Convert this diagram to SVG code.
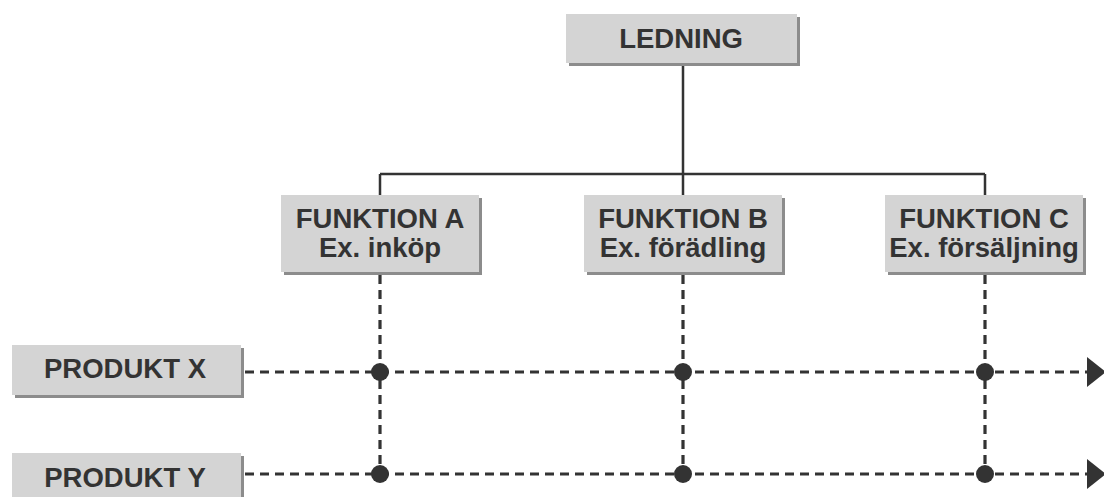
<svg xmlns="http://www.w3.org/2000/svg" width="1104" height="497" viewBox="0 0 1104 497">
  <defs>
    <style>
      .box { fill: #d4d4d4; }
      .shadow { fill: #8c8c8c; }
      .label { font-family: "Liberation Sans", Arial, sans-serif; font-weight: bold; font-size: 27.5px; fill: #333333; text-anchor: middle; }
      .tree { stroke: #333333; stroke-width: 2.5; fill: none; }
      .dash { stroke: #333333; stroke-width: 3.2; fill: none; stroke-dasharray: 9 6; }
      .dot { fill: #333333; }
    </style>
    <marker id="arrow" viewBox="0 0 19 30" refX="1" refY="15" markerWidth="19" markerHeight="30" markerUnits="userSpaceOnUse" orient="auto">
      <path d="M0,0 L19,15 L0,30 Z" fill="#333333"/>
    </marker>
  </defs>

  <rect width="1104" height="497" fill="#ffffff"/>

  <!-- connectors -->
  <g id="connectors">
    <path class="tree" d="M683,63 V174 M380,174 H985 M380,174 V195 M683,174 V195 M985,174 V195"/>
    <path class="dash" d="M380,275 V474"/>
    <path class="dash" d="M683,275 V474"/>
    <path class="dash" d="M985,275 V474"/>
    <path class="dash" d="M245,372 H1088" marker-end="url(#arrow)"/>
    <path class="dash" d="M245,474 H1088" marker-end="url(#arrow)"/>
    <circle class="dot" cx="380" cy="372" r="9"/>
    <circle class="dot" cx="683" cy="372" r="9"/>
    <circle class="dot" cx="985" cy="372" r="9"/>
    <circle class="dot" cx="380" cy="474" r="9"/>
    <circle class="dot" cx="683" cy="474" r="9"/>
    <circle class="dot" cx="985" cy="474" r="9"/>
  </g>

  <g id="ledning">
    <rect class="shadow" x="569" y="17" width="231" height="49"/>
    <rect class="box" x="566" y="14" width="231" height="49"/>
    <text class="label" x="681" y="48">LEDNING</text>
  </g>

  <g id="funktion-a">
    <rect class="shadow" x="284" y="198" width="198" height="77"/>
    <rect class="box" x="281" y="195" width="198" height="77"/>
    <text class="label" x="380" y="228">FUNKTION A</text>
    <text class="label" x="380" y="257">Ex. inköp</text>
  </g>

  <g id="funktion-b">
    <rect class="shadow" x="587" y="198" width="198" height="77"/>
    <rect class="box" x="584" y="195" width="198" height="77"/>
    <text class="label" x="683" y="228">FUNKTION B</text>
    <text class="label" x="683" y="257">Ex. förädling</text>
  </g>

  <g id="funktion-c">
    <rect class="shadow" x="888" y="198" width="198" height="77"/>
    <rect class="box" x="885" y="195" width="198" height="77"/>
    <text class="label" x="984" y="228">FUNKTION C</text>
    <text class="label" x="984" y="257">Ex. försäljning</text>
  </g>

  <g id="produkt-x">
    <rect class="shadow" x="15" y="348" width="229" height="50"/>
    <rect class="box" x="12" y="345" width="229" height="50"/>
    <text class="label" x="125" y="378">PRODUKT X</text>
  </g>

  <g id="produkt-y">
    <rect class="shadow" x="15" y="456" width="229" height="50"/>
    <rect class="box" x="12" y="453" width="229" height="50"/>
    <text class="label" x="125" y="487">PRODUKT Y</text>
  </g>
</svg>
